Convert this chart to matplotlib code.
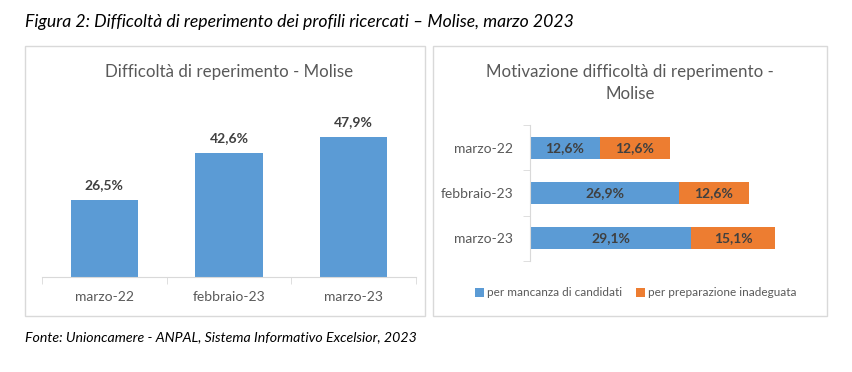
import matplotlib.pyplot as plt
from matplotlib.patches import Rectangle

# dati
periodi = ['marzo-22', 'febbraio-23', 'marzo-23']
difficolta = [26.5, 42.6, 47.9]
mancanza_candidati = [12.6, 26.9, 29.1]
preparazione_inadeguata = [12.6, 12.6, 15.1]
serie_nomi = ['per mancanza di candidati', 'per preparazione inadeguata']

BLU = '#5B9BD5'
ARANCIO = '#ED7D31'
GRIGIO = '#595959'
BORDO = '#D9D9D9'

plt.rcParams['font.family'] = ['Lato', 'DejaVu Sans']

W, H = 852, 372
fig = plt.figure(figsize=(W / 100, H / 100), dpi=100)


def box(x0, y0, x1, y1):
    # converte pixel (origine in alto) in coordinate figura
    return [x0 / W, 1 - y1 / H, (x1 - x0) / W, (y1 - y0) / H]


# cornici dei due pannelli
for x0, x1 in [(25, 425), (433, 827)]:
    fig.patches.append(Rectangle((x0 / W, 1 - 316 / H), (x1 - x0) / W, 270 / H,
                                 transform=fig.transFigure, fill=False,
                                 edgecolor=BORDO, linewidth=1))

fig.text(25 / W, 1 - 22 / H,
         'Figura 2: Difficoltà di reperimento dei profili ricercati – Molise, marzo 2023',
         fontsize=12.7, style='italic', va='center', ha='left', color='black')
fig.text(25 / W, 1 - 337 / H,
         'Fonte: Unioncamere - ANPAL, Sistema Informativo Excelsior, 2023',
         fontsize=10.2, style='italic', va='center', ha='left', color='black')

# grafico a colonne
ax1 = fig.add_axes(box(42, 102, 416, 277))
x = range(len(periodi))
ax1.bar(x, difficolta, width=0.54, color=BLU)
for i, v in enumerate(difficolta):
    ax1.text(i, v + 3, f'{v:.1f}%'.replace('.', ','), ha='center', va='bottom',
             fontsize=10, fontweight='bold', color='#404040')
ax1.set_xlim(-0.5, 2.5)
ax1.set_ylim(0, 60)
ax1.set_xticks(list(x))
ax1.set_xticklabels(periodi, fontsize=10, color=GRIGIO)
ax1.set_xticks([-0.5, 0.5, 1.5, 2.5], minor=True)
ax1.tick_params(axis='x', which='major', length=0, pad=10)
ax1.tick_params(axis='x', which='minor', length=5, color=BORDO)
ax1.set_yticks([])
for s in ['top', 'left', 'right']:
    ax1.spines[s].set_visible(False)
ax1.spines['bottom'].set_color(BORDO)
fig.text(229 / W, 1 - 72 / H, 'Difficoltà di reperimento - Molise',
         fontsize=12.2, color=GRIGIO, ha='center', va='center')

# grafico a barre orizzontali in pila
ax2 = fig.add_axes(box(530, 125, 807, 261))
y = range(len(periodi))
ax2.barh(y, mancanza_candidati, height=0.48, color=BLU, label=serie_nomi[0])
ax2.barh(y, preparazione_inadeguata, height=0.48, left=mancanza_candidati,
         color=ARANCIO, label=serie_nomi[1])
for i in y:
    a, b = mancanza_candidati[i], preparazione_inadeguata[i]
    ax2.text(a / 2, i, f'{a:.1f}%'.replace('.', ','), ha='center', va='center',
             fontsize=10, fontweight='bold', color='#404040')
    ax2.text(a + b / 2, i, f'{b:.1f}%'.replace('.', ','), ha='center', va='center',
             fontsize=10, fontweight='bold', color='#404040')
ax2.set_xlim(0, 50)
ax2.set_ylim(2.5, -0.5)
ax2.set_yticks(list(y))
ax2.set_yticklabels(periodi, fontsize=10, color=GRIGIO)
ax2.set_yticks([-0.5, 0.5, 1.5, 2.5], minor=True)
ax2.tick_params(axis='y', which='major', length=0, pad=12)
ax2.tick_params(axis='y', which='minor', length=5, color=BORDO)
ax2.set_xticks([])
for s in ['top', 'bottom', 'right']:
    ax2.spines[s].set_visible(False)
ax2.spines['left'].set_color(BORDO)
fig.text(630 / W, 1 - 72 / H, 'Motivazione difficoltà di reperimento -',
         fontsize=12.2, color=GRIGIO, ha='center', va='center')
fig.text(630 / W, 1 - 94 / H, 'Molise',
         fontsize=12.2, color=GRIGIO, ha='center', va='center')
fig.legend(loc='center', bbox_to_anchor=(636 / W, 1 - 293 / H), ncol=2,
           frameon=False, fontsize=8.5, handlelength=0.7, handleheight=0.7,
           handletextpad=0.3, columnspacing=1.2, labelcolor=GRIGIO)

fig.savefig('out.png', dpi=100)
